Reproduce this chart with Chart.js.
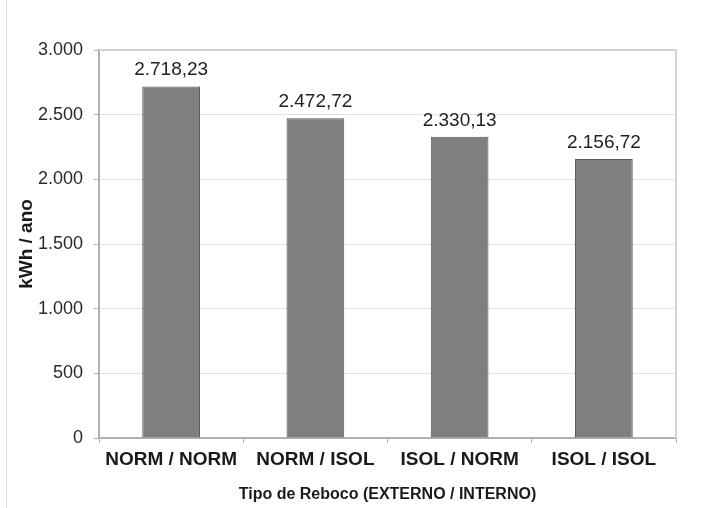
<!DOCTYPE html>
<html>
<head>
<meta charset="utf-8">
<script src="https://cdn.jsdelivr.net/npm/chart.js@4.4.1/dist/chart.umd.min.js"></script>
<style>
  html, body { margin: 0; padding: 0; background: #fff; }
  #wrap { position: relative; width: 725px; height: 508px; }
  #edge { position: absolute; left: 6px; top: 0; width: 1px; height: 508px; background: #d6d6d6; }
  canvas { display: block; }
</style>
</head>
<body>
<div id="wrap">
  <canvas id="c" width="725" height="508"></canvas>
  <div id="edge"></div>
</div>
<script>
// Annual energy use by plaster type (external / internal)
const categories = ['NORM / NORM', 'NORM / ISOL', 'ISOL / NORM', 'ISOL / ISOL'];
const consumo = [2718.23, 2472.72, 2330.13, 2156.72];
const yTicks = [0, 500, 1000, 1500, 2000, 2500, 3000];

const FONT = '"Liberation Sans", Arial, sans-serif';

// pt-BR style number formatting: thousands '.', decimals ','
function fmt(v, dec) {
  const parts = v.toFixed(dec).split('.');
  const intPart = parts[0].replace(/\B(?=(\d{3})+(?!\d))/g, '.');
  return parts.length > 1 ? intPart + ',' + parts[1] : intPart;
}

const valueLabels = {
  id: 'valueLabels',
  afterDatasetsDraw(chart) {
    const ctx = chart.ctx;
    const meta = chart.getDatasetMeta(0);
    ctx.save();
    ctx.font = '19px ' + FONT;
    ctx.fillStyle = '#222';
    ctx.textAlign = 'center';
    ctx.textBaseline = 'alphabetic';
    meta.data.forEach((bar, i) => {
      ctx.fillText(fmt(consumo[i], 2), bar.x, bar.y - 11);
    });
    ctx.restore();
  }
};

const plotFrame = {
  id: 'plotFrame',
  beforeDatasetsDraw(chart) {
    const { ctx, chartArea: a } = chart;
    ctx.save();
    ctx.strokeStyle = '#d4d4d4';
    ctx.lineWidth = 2;
    ctx.beginPath();
    ctx.moveTo(a.left, a.top);
    ctx.lineTo(a.right, a.top);
    ctx.lineTo(a.right, a.bottom);
    ctx.stroke();
    ctx.restore();
  }
};

new Chart(document.getElementById('c'), {
  type: 'bar',
  data: {
    labels: categories,
    datasets: [{
      data: consumo,
      backgroundColor: '#7f7f7f',
      borderColor: '#555555',
      borderWidth: 1,
      categoryPercentage: 1,
      barPercentage: 0.4
    }]
  },
  options: {
    responsive: false,
    animation: false,
    devicePixelRatio: 1,
    layout: { padding: { left: 0, right: 49, top: 50, bottom: 0 } },
    plugins: { legend: { display: false }, tooltip: { enabled: false } },
    scales: {
      x: {
        grid: { display: true, drawOnChartArea: false, offset: true, tickLength: 5, tickColor: '#b0b0b0', lineWidth: 1 },
        border: { color: '#b0b0b0', width: 2 },
        ticks: {
          color: '#1a1a1a',
          padding: 5,
          font: { family: FONT, size: 19, weight: 'bold' }
        },
        title: {
          display: true,
          text: 'Tipo de Reboco (EXTERNO / INTERNO)',
          color: '#1a1a1a',
          padding: { top: 0, bottom: 4 },
          font: { family: FONT, size: 16, weight: 'bold' }
        },
        afterFit(s) { s.height = 70; }
      },
      y: {
        min: 0,
        max: 3000,
        afterBuildTicks(s) { s.ticks = yTicks.map(v => ({ value: v })); },
        grid: { color: '#e2e2e2', lineWidth: 1, tickLength: 5, tickColor: '#b0b0b0' },
        border: { color: '#b0b0b0', width: 2 },
        ticks: {
          color: '#2a2a2a',
          padding: 11,
          font: { family: FONT, size: 18 },
          callback: v => fmt(v, 0)
        },
        title: {
          display: true,
          text: 'kWh / ano',
          color: '#1a1a1a',
          padding: { top: 15, bottom: 0 },
          font: { family: FONT, size: 19, weight: 'bold' }
        },
        afterFit(s) { s.width = 99; }
      }
    }
  },
  plugins: [plotFrame, valueLabels]
});
</script>
</body>
</html>
